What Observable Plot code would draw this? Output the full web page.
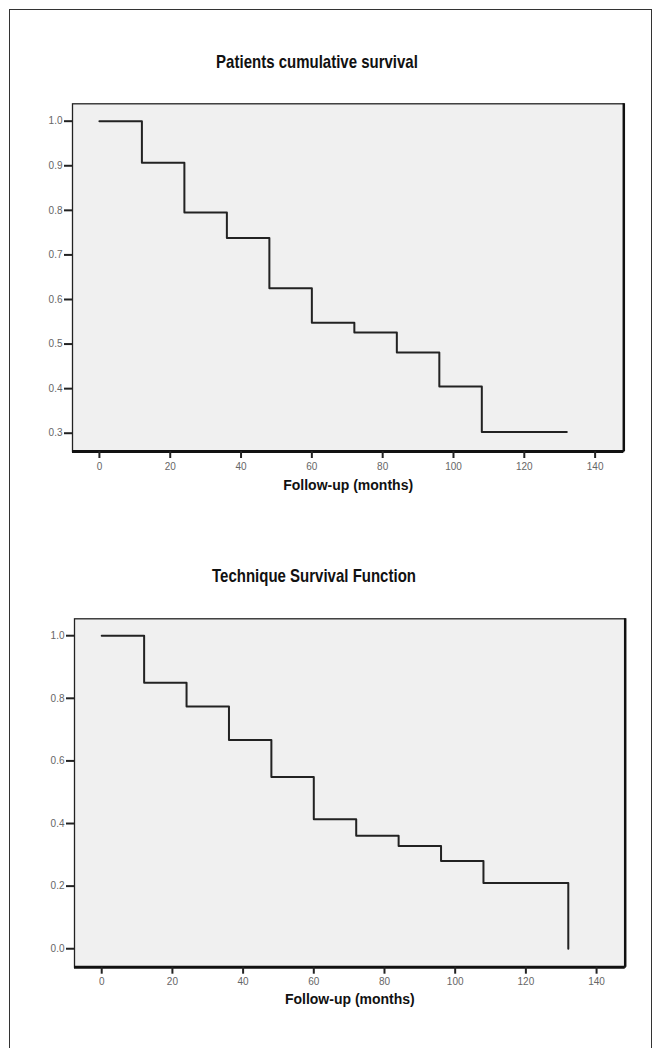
<!DOCTYPE html>
<html><head><meta charset="utf-8">
<script src="https://cdn.jsdelivr.net/npm/d3@7"></script>
<script src="https://cdn.jsdelivr.net/npm/@observablehq/plot@0.6"></script>
<style>
html,body{margin:0;padding:0;background:#fff;}
#wrap{position:relative;width:655px;height:1048px;overflow:hidden;font-family:"Liberation Sans",Arial,sans-serif;}
#border{position:absolute;left:9px;top:9px;width:643px;height:1100px;border:1.5px solid #333;box-sizing:border-box;}
.title{position:absolute;transform:translate(-50%,-50%) scaleY(1.18);font-weight:bold;font-size:15px;color:#111;white-space:nowrap;}
.chart{position:absolute;left:0;}
</style></head><body>
<div id="wrap">
  <div id="border"></div>
  <div class="title" style="left:317px;top:62px">Patients cumulative survival</div>
  <div class="chart" id="c1" style="top:0px"></div>
  <div class="title" style="left:314px;top:576px">Technique Survival Function</div>
  <div class="chart" id="c2" style="top:520px"></div>
</div>
<script>
// Data
const months1 = [0, 12, 24, 36, 48, 60, 72, 84, 96, 108, 132];
const survival1 = [1.0, 0.907, 0.795, 0.738, 0.625, 0.548, 0.526, 0.481, 0.405, 0.303, 0.303];
const months2 = [0, 12, 24, 36, 48, 60, 72, 84, 96, 108, 132];
const survival2 = [1.0, 0.85, 0.774, 0.667, 0.549, 0.414, 0.361, 0.328, 0.28, 0.21, 0.0];
const xTicks = [0, 20, 40, 60, 80, 100, 120, 140];
const yTicks1 = [0.3, 0.4, 0.5, 0.6, 0.7, 0.8, 0.9, 1.0];
const yTicks2 = [0.0, 0.2, 0.4, 0.6, 0.8, 1.0];
const xLabel1 = "Follow-up (months)";
const xLabel2 = "Follow-up (months)";

function km(months, surv) {
  return months.map((t, i) => ({t, s: surv[i]}));
}

function chart({data, yTicks, xDomain, yDomain, height, margins, label, labelDy}) {
  return Plot.plot({
    width: 655,
    height,
    marginLeft: margins[0], marginRight: margins[1], marginTop: margins[2], marginBottom: margins[3],
    style: {fontFamily: "'Liberation Sans', Arial, sans-serif", background: "transparent", overflow: "visible"},
    x: {domain: xDomain},
    y: {domain: yDomain},
    marks: [
      Plot.frame({fill: "#f0f0f0", stroke: "#222", strokeWidth: 1.3}),
      Plot.ruleY([yDomain[0]], {stroke: "#111", strokeWidth: 3}),
      Plot.ruleX([xDomain[1]], {stroke: "#111", strokeWidth: 2.5}),
      Plot.axisY({ticks: yTicks, tickSize: 8, tickPadding: 2, tickFormat: d3.format(".1f"),
        stroke: "#222", strokeWidth: 2, fill: "#666", fontSize: 10, label: null}),
      Plot.axisX({ticks: xTicks, tickSize: 7, tickPadding: 4, tickFormat: d3.format("d"),
        stroke: "#222", strokeWidth: 2, fill: "#666", fontSize: 10, label: null}),
      Plot.line(data, {x: "t", y: "s", curve: "step-after", stroke: "#222", strokeWidth: 2}),
      Plot.text([label], {text: d => d, frameAnchor: "bottom", dy: labelDy,
        fontWeight: "bold", fontSize: 14, fill: "#111"})
    ]
  });
}

document.getElementById("c1").append(chart({
  data: km(months1, survival1), yTicks: yTicks1,
  xDomain: [-7.6, 148.1], yDomain: [0.259, 1.039],
  height: 520, margins: [72, 31.7, 103.3, 69], label: xLabel1, labelDy: 38
}));
document.getElementById("c2").append(chart({
  data: km(months2, survival2), yTicks: yTicks2,
  xDomain: [-7.7, 148.1], yDomain: [-0.059, 1.054],
  height: 528, margins: [74, 30.3, 98.3, 81.3], label: xLabel2, labelDy: 37
}));
</script>
</body></html>
